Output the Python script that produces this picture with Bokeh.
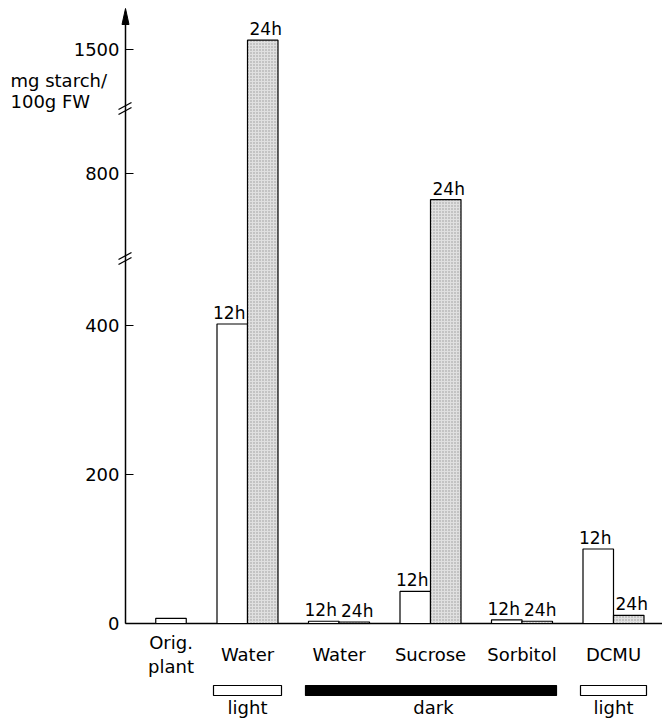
import numpy as np
from bokeh.plotting import figure
from bokeh.models import Range1d, FixedTicker, LinearAxis, Grid
from bokeh.core.properties import value
from bokeh.embed import file_html
from bokeh.resources import INLINE

# ---------------- data ----------------
group_names = ["Water", "Water", "Sucrose", "Sorbitol", "DCMU"]
orig_label = ["Orig.", "plant"]
orig_value = 7
starch_12h = [402, 3, 43, 5, 100]
starch_24h = [1512, 2, 765, 3, 11]
bar_tags = ["12h", "24h"]
tick_values = [0, 200, 400, 800, 1500]
y_title = ["mg starch/", "100g FW"]
conditions = ["light", "dark", "light"]

# broken value axis: value -> display coordinate
value_knots = [0, 490, 686, 887, 1420, 1600]
display_knots = [0, 490, 490, 691, 691, 871]


def to_d(v):
    return np.interp(np.asarray(v, dtype=float), value_knots, display_knots)


# ---------------- layout helpers (page pixels -> data units) ----------------
W, H = 662, 721
XS = 91.5      # px per group
YS = 0.745     # px per display unit


def xd(px):
    return 1 + (px - 247) / XS


def yd(py):
    return (623 - py) / YS


FONT = value("DejaVu Sans")
FS = "18px"
TFS = "17px"
TAG_GAP = 11 / YS

p = figure(width=W, height=H, output_backend="svg", toolbar_location=None,
           x_axis_location=None, y_axis_location=None,
           x_range=Range1d(xd(0), xd(W)), y_range=Range1d(yd(H), yd(0)),
           min_border=0, min_border_left=0, min_border_right=0,
           min_border_top=0, min_border_bottom=0)
p.outline_line_color = None
p.background_fill_color = "white"
for r in list(p.center):
    if isinstance(r, Grid):
        r.visible = False

ax_x = xd(125)

# y axis with broken scale
tick_d = [float(t) for t in to_d(tick_values)]
yaxis = LinearAxis(fixed_location=ax_x, ticker=FixedTicker(ticks=tick_d),
                   bounds=(0, yd(20)))
yaxis.major_label_overrides = {d: str(v) for d, v in zip(tick_d, tick_values)}
yaxis.major_tick_in = 8
yaxis.major_tick_out = 0
yaxis.minor_tick_in = 0
yaxis.minor_tick_out = 0
yaxis.axis_line_width = 1.5
yaxis.major_tick_line_width = 1.2
yaxis.major_label_standoff = 6
yaxis.major_label_text_font = "DejaVu Sans"
yaxis.major_label_text_font_size = FS
yaxis.major_label_text_color = "black"
p.add_layout(yaxis, "left")

# arrow head
p.patch(x=[ax_x, ax_x - 3.5 / XS, ax_x + 3.5 / XS], y=[yd(8), yd(24), yd(24)],
        fill_color="black", line_color="black", line_width=1)

# break marks (value axis interrupted between the knots)
for pb in (258, 108):
    for off in (-2.5, 2.5):
        p.segment(x0=[xd(118)], y0=[yd(pb + off + 3.5)], x1=[xd(131)], y1=[yd(pb + off - 3.5)],
                  line_color="black", line_width=1.3)

# baseline
p.segment(x0=[ax_x], y0=[0], x1=[xd(W)], y1=[0], line_color="black", line_width=1.5)

# bars
centers = np.arange(1, len(group_names) + 1, dtype=float)
bw = 30.5 / XS
orig_x = xd(170.5)
p.quad(left=[orig_x - bw / 2], right=[orig_x + bw / 2], bottom=[0], top=[float(to_d(orig_value))],
       fill_color="white", line_color="black", line_width=1.2)
p.quad(left=centers - bw, right=centers, bottom=0, top=to_d(starch_12h),
       fill_color="white", line_color="black", line_width=1.2)
p.quad(left=centers, right=centers + bw, bottom=0, top=to_d(starch_24h),
       fill_color="#e0e0e0", hatch_pattern="dot", hatch_color="#666666",
       hatch_scale=3, hatch_weight=0.8, hatch_alpha=0.6,
       line_color="black", line_width=1.2)

# bar tags
p.text(x=centers - bw / 2, y=to_d(starch_12h) + TAG_GAP, text=[bar_tags[0]] * len(centers),
       text_font=FONT, text_font_size=TFS, text_align="center", text_baseline="alphabetic",
       x_offset=-3, text_color="black")
p.text(x=centers + bw / 2, y=to_d(starch_24h) + TAG_GAP, text=[bar_tags[1]] * len(centers),
       text_font=FONT, text_font_size=TFS, text_align="center", text_baseline="alphabetic",
       x_offset=3, text_color="black")

# group labels
p.text(x=centers, y=[yd(654)] * len(centers), text=group_names,
       text_font=FONT, text_font_size=FS, text_align="center", text_baseline="alphabetic",
       text_color="black")
p.text(x=[orig_x, orig_x], y=[yd(642), yd(666)], text=orig_label,
       text_font=FONT, text_font_size=FS, text_align="center", text_baseline="alphabetic",
       text_color="black")

# condition bars
p.quad(left=[xd(213), xd(580)], right=[xd(281), xd(646)], bottom=[yd(695)] * 2, top=[yd(685)] * 2,
       fill_color="white", line_color="black", line_width=1.2)
p.quad(left=[xd(305)], right=[xd(556)], bottom=[yd(695)], top=[yd(685)],
       fill_color="black", line_color="black", line_width=1.2)
p.text(x=[xd(247), xd(433), xd(613)], y=[yd(707)] * 3, text=conditions,
       text_font=FONT, text_font_size=FS, text_align="center", text_baseline="alphabetic",
       text_color="black")

# y title
p.text(x=[xd(10)] * 2, y=[yd(80), yd(101)], text=y_title,
       text_font=FONT, text_font_size=FS, text_align="left", text_baseline="alphabetic",
       text_color="black")

open("out.html", "w").write(file_html(p, INLINE))
